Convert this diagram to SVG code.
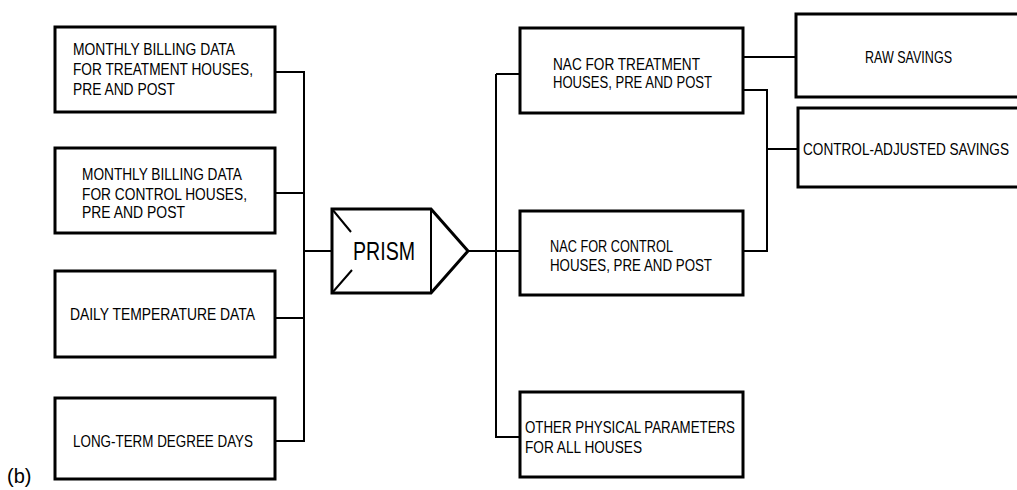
<svg xmlns="http://www.w3.org/2000/svg" width="1017" height="490" viewBox="0 0 1017 490">
<style>
.box{fill:#fff;stroke:#000;stroke-width:3}
.ln{fill:none;stroke:#000;stroke-width:2}
.t{font-family:"Liberation Sans",Arial,sans-serif;font-size:17px;fill:#000}
</style>
<rect width="1017" height="490" fill="#fff"/>
<g id="connectors">
<path class="ln" d="M275 72H304V441H275M275 193H304M275 318H304M304 251H332"/>
<path class="ln" d="M468 251H520M496 74H520M496 74V437H520"/>
<path class="ln" stroke-width="1.5" d="M420 251H468"/>
<path class="ln" d="M743 57H796M743 90H767V251H743M767 149H798"/>
</g>
<g id="n1"><rect class="box" x="55" y="27" width="220" height="85"/>
<text class="t" x="73" y="55" textLength="162" lengthAdjust="spacingAndGlyphs">MONTHLY BILLING DATA</text>
<text class="t" x="73" y="75" textLength="180" lengthAdjust="spacingAndGlyphs">FOR TREATMENT HOUSES,</text>
<text class="t" x="73" y="95" textLength="102" lengthAdjust="spacingAndGlyphs">PRE AND POST</text></g>
<g id="n2"><rect class="box" x="55" y="148" width="220" height="85"/>
<text class="t" x="82" y="180" textLength="160" lengthAdjust="spacingAndGlyphs">MONTHLY BILLING DATA</text>
<text class="t" x="82" y="200" textLength="165" lengthAdjust="spacingAndGlyphs">FOR CONTROL HOUSES,</text>
<text class="t" x="82" y="218" textLength="103" lengthAdjust="spacingAndGlyphs">PRE AND POST</text></g>
<g id="n3"><rect class="box" x="55" y="271" width="220" height="86"/>
<text class="t" x="70" y="320" textLength="185" lengthAdjust="spacingAndGlyphs">DAILY TEMPERATURE DATA</text></g>
<g id="n4"><rect class="box" x="55" y="398" width="220" height="81"/>
<text class="t" x="73" y="447" textLength="180" lengthAdjust="spacingAndGlyphs">LONG-TERM DEGREE DAYS</text></g>
<g id="prism">
<path class="box" d="M332 209H431L468 251L431 293H332Z"/>
<path class="ln" d="M431 209V293M332 209L351 232M332 293L352 270"/>
<text x="353" y="260" font-family="'Liberation Sans',Arial,sans-serif" font-size="26" textLength="62" lengthAdjust="spacingAndGlyphs">PRISM</text>
</g>
<g id="n5"><rect class="box" x="520" y="28" width="223" height="85"/>
<text class="t" x="553" y="70" textLength="147" lengthAdjust="spacingAndGlyphs">NAC FOR TREATMENT</text>
<text class="t" x="553" y="88" textLength="159" lengthAdjust="spacingAndGlyphs">HOUSES, PRE AND POST</text></g>
<g id="n6"><rect class="box" x="520" y="211" width="223" height="84"/>
<text class="t" x="550" y="252" textLength="123" lengthAdjust="spacingAndGlyphs">NAC FOR CONTROL</text>
<text class="t" x="550" y="271" textLength="162" lengthAdjust="spacingAndGlyphs">HOUSES, PRE AND POST</text></g>
<g id="n7"><rect class="box" x="520" y="392" width="223" height="85"/>
<text class="t" x="525" y="433" textLength="210" lengthAdjust="spacingAndGlyphs">OTHER PHYSICAL PARAMETERS</text>
<text class="t" x="525" y="453" textLength="117" lengthAdjust="spacingAndGlyphs">FOR ALL HOUSES</text></g>
<g id="n8"><rect class="box" x="796" y="14" width="240" height="83"/>
<text class="t" x="865" y="63" textLength="87" lengthAdjust="spacingAndGlyphs">RAW SAVINGS</text></g>
<g id="n9"><rect class="box" x="798" y="108" width="240" height="79"/>
<text class="t" x="803" y="155" textLength="206" lengthAdjust="spacingAndGlyphs">CONTROL-ADJUSTED SAVINGS</text></g>
<text x="7" y="483" font-family="'Liberation Sans',Arial,sans-serif" font-size="20">(b)</text>
</svg>
